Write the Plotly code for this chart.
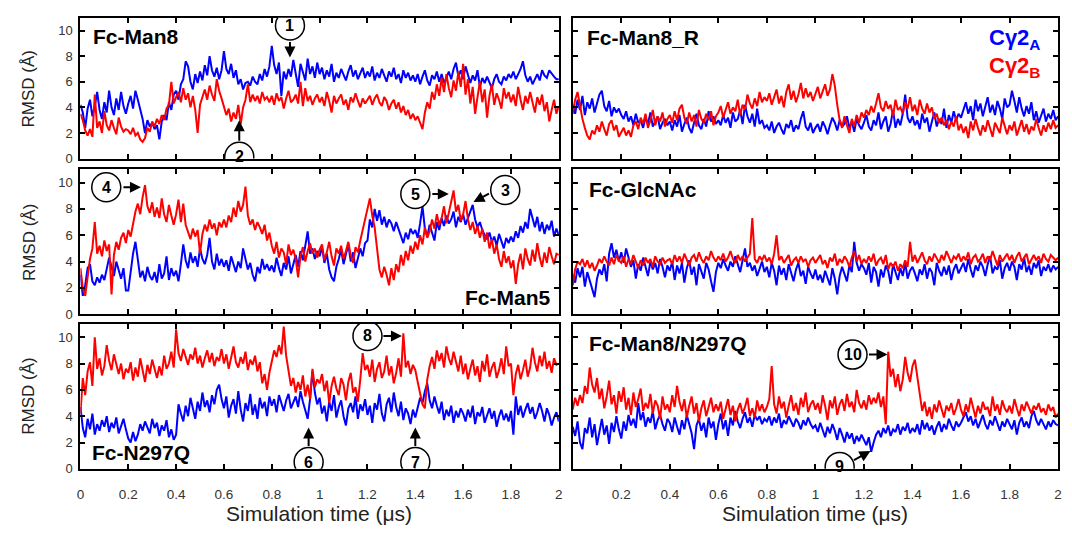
import plotly.graph_objects as go
from plotly.subplots import make_subplots

# ---------------- data ----------------
time = [round(i * 0.01, 2) for i in range(201)]
xticks = [0, 0.2, 0.4, 0.6, 0.8, 1.0, 1.2, 1.4, 1.6, 1.8, 2.0]
xtick_text_left = ["0", "0.2", "0.4", "0.6", "0.8", "1", "1.2", "1.4", "1.6", "1.8", "2"]
xtick_text_right = ["", "0.2", "0.4", "0.6", "0.8", "1", "1.2", "1.4", "1.6", "1.8", "2"]
yticks = [0, 2, 4, 6, 8, 10]

# Fc-Man8
man8_a = [4.2, 3.6, 2.4, 3.9, 4.6, 3.3, 4.1, 5.2, 3.8, 3.1, 4.4, 3.6, 5.3, 4.0, 3.4, 4.7, 3.8, 5.2, 4.1, 3.5,
          4.3, 4.9, 3.9, 5.3, 4.6, 3.8, 3.1, 2.0, 3.0, 2.5, 2.8, 2.3, 2.6, 1.5, 2.9, 3.4, 3.0, 4.4, 3.8, 5.0,
          5.3, 4.6, 5.8, 6.2, 7.6, 7.2, 6.0, 5.4, 6.6, 5.9, 6.8, 6.1, 7.3, 6.5, 8.0, 6.9, 6.4, 7.1, 6.2, 6.9,
          8.4, 7.0, 6.6, 7.4, 6.3, 6.9, 5.8, 6.2, 5.4, 5.9, 6.0, 5.7, 6.4, 6.0, 5.8, 6.6, 6.1, 7.0, 6.4, 7.2,
          8.8, 7.3, 6.6, 7.5, 4.9, 6.8, 6.2, 7.0, 6.4, 7.7, 6.5, 5.6, 7.4, 6.8, 6.1, 7.8, 6.6, 7.2, 6.3, 7.5,
          6.6, 7.1, 6.2, 6.9, 6.4, 7.4, 6.0, 6.7, 6.3, 7.0, 6.5, 6.1, 6.8, 7.3, 6.4, 6.9, 6.2, 6.6, 7.1, 6.3,
          6.8, 6.4, 7.2, 6.1, 6.7, 6.3, 7.0, 6.5, 6.0, 6.8, 6.4, 7.1, 6.2, 6.6, 5.9, 6.9, 6.3, 6.7, 6.1, 6.5,
          6.0, 6.6, 5.8, 6.4, 6.9, 6.1, 5.7, 6.5, 6.2, 6.8, 6.0, 6.6, 5.9, 6.3, 6.8, 6.2, 7.0, 7.5, 6.4, 6.9,
          6.2, 7.2, 6.6, 5.9, 6.5, 6.1, 6.9, 5.6, 6.3, 5.9, 6.4, 6.0, 5.5, 6.2, 6.6, 6.0, 5.8, 6.4, 6.1, 6.6,
          6.3, 6.8, 6.2, 6.6, 7.0, 7.6, 6.5, 6.0, 6.4, 5.8, 6.2, 6.6, 6.1, 6.9, 6.5, 6.3, 6.9, 6.6, 6.4, 6.2,
          6.2]
man8_b = [3.5, 3.0, 2.2, 1.8, 2.3, 1.7, 5.0, 2.4, 2.9, 2.0, 3.7, 2.6, 2.2, 3.0, 2.4, 1.9, 3.2, 2.5, 2.1, 2.3,
          2.2, 1.9, 2.4, 1.8, 2.0, 1.5, 1.3, 1.6, 2.4, 2.1, 2.9, 2.5, 3.1, 2.7, 3.4, 3.0, 3.9, 4.2, 6.0, 4.3,
          4.8, 5.2, 4.4, 5.5, 4.6, 5.1, 4.0, 4.9, 3.8, 2.0, 4.2, 4.8, 5.4, 4.6, 5.7, 5.0, 4.5, 6.2, 5.3, 4.7,
          4.0, 3.4, 3.9, 2.9, 3.6, 3.1, 4.2, 2.7, 4.0, 4.6, 5.8, 4.4, 5.0, 4.5, 4.9, 4.3, 5.2, 4.6, 4.8, 4.4,
          4.9, 4.2, 5.1, 4.5, 4.8, 3.9, 4.7, 5.3, 4.4, 4.6, 5.0, 4.3, 6.0, 4.1, 5.5, 4.5, 4.9, 4.2, 4.7, 5.0,
          4.4, 4.8, 4.1, 5.2, 4.5, 3.6, 4.9, 4.3, 4.7, 5.0, 4.2, 4.6, 3.8, 4.8, 4.4, 5.1, 4.5, 4.0, 4.7, 4.3,
          4.6, 4.9, 4.2, 4.7, 5.0, 4.4, 4.1, 4.8, 4.5, 3.8, 4.3, 4.6, 3.9, 4.4, 3.6, 4.1, 3.4, 3.8, 3.1, 3.5,
          3.0, 3.3, 2.8, 2.3, 3.6, 4.4, 3.9, 5.2, 4.6, 5.8, 4.9, 6.3, 5.2, 6.6, 5.5, 4.8, 6.1, 5.3, 6.8, 5.6,
          7.4, 5.0, 6.2, 4.3, 5.6, 3.5, 4.8, 6.0, 4.4, 5.4, 3.2, 4.9, 5.8, 4.2, 5.1, 4.6, 3.9, 5.5, 4.7, 5.2,
          4.4, 5.0, 4.1, 5.6, 4.6, 3.8, 4.9, 4.3, 5.2, 4.5, 3.6, 4.8, 4.2, 5.0, 3.7, 4.4, 2.9, 3.8, 4.6, 3.5,
          4.1]

# Fc-Man5
man5_a = [3.0, 1.4, 2.2, 3.5, 3.8, 2.5, 2.2, 2.8, 2.4, 3.0, 2.6, 3.4, 4.3, 3.6, 2.9, 4.0, 3.3, 2.7, 3.5, 1.8,
          1.8, 3.4, 4.6, 5.5, 3.9, 2.8, 3.3, 2.5, 3.6, 2.9, 2.6, 3.2, 2.4, 3.8, 2.7, 3.1, 4.4, 2.6, 3.5, 2.9,
          3.3, 2.5, 3.8, 5.3, 4.1, 3.5, 4.7, 3.9, 4.4, 3.6, 5.0, 4.2, 3.8, 4.5, 5.8, 4.0, 3.4, 4.6, 3.7, 4.2,
          3.6, 4.1, 3.3, 4.4, 3.8, 3.2, 4.0, 3.5, 5.0, 4.2, 3.4, 3.9, 3.0, 2.5, 3.6, 3.1, 4.2, 3.4, 3.8, 3.3,
          3.7, 3.2, 4.3, 3.5, 2.9, 3.9, 3.4, 4.4, 3.1, 3.8, 4.5, 3.6, 4.8, 4.1, 5.2, 6.3, 4.6, 5.0, 4.2, 4.8,
          4.4, 5.1, 3.9, 4.6, 3.4, 2.8, 2.5, 3.6, 4.2, 4.9, 3.8, 4.5, 5.3, 4.0, 4.7, 3.5, 4.3, 5.0, 4.4, 5.4,
          5.6, 7.2, 6.6, 8.0, 7.1, 7.9, 6.8, 7.4, 6.6, 7.2, 6.9, 6.3, 7.0, 6.5, 6.0, 5.4, 6.2, 5.7, 6.5, 6.1,
          6.4, 5.8, 6.9, 8.2, 6.5, 5.9, 6.8, 6.2, 5.6, 7.0, 6.4, 7.3, 6.7, 7.5, 6.9, 7.2, 7.8, 6.6, 7.4, 7.0,
          7.6, 6.8, 7.3, 7.9, 8.3, 7.2, 6.6, 7.0, 6.4, 6.0, 5.7, 6.2, 5.5, 5.9, 5.2, 6.1, 5.6, 5.0, 5.8, 5.4,
          5.9, 5.5, 6.3, 5.8, 6.7, 6.2, 7.0, 6.5, 8.0, 7.2, 6.6, 7.4, 6.3, 7.0, 6.1, 6.8, 6.4, 7.1, 5.9, 6.5,
          6.0]
man5_b = [3.5, 2.0, 1.4, 2.8, 4.2, 5.0, 7.0, 4.6, 5.2, 4.4, 5.6, 4.8, 5.3, 1.5, 4.5, 5.5, 4.9, 5.8, 6.2, 5.4,
          6.4, 5.9, 6.8, 7.8, 8.4, 7.6, 8.9, 9.8, 8.2, 7.7, 8.5, 7.4, 8.1, 7.3, 8.8, 7.6, 7.0, 8.3, 7.5, 6.8,
          7.6, 8.7, 7.0, 8.4, 6.8, 6.2, 5.7, 6.5, 5.9, 6.4, 4.6, 6.1, 6.8, 6.3, 7.2, 6.5, 6.9, 6.0, 7.0, 6.6,
          7.2, 6.6, 7.5, 7.0, 8.1, 7.4, 8.6, 7.8, 8.3, 9.7, 7.5, 6.8, 7.2, 6.4, 7.0, 6.6, 6.1, 6.8, 5.6, 6.2,
          5.2, 4.6, 5.5, 4.3, 5.0, 4.7, 3.8, 5.3, 4.5, 4.9, 4.2, 2.8, 4.4, 5.1, 4.0, 4.8, 5.4, 4.6, 5.0, 4.3,
          4.9, 5.3, 4.1, 4.7, 5.5, 4.4, 3.7, 5.0, 4.6, 5.2, 4.2, 4.8, 5.5, 4.5, 3.9, 5.1, 4.7, 5.6, 6.4, 7.2,
          7.8, 8.8, 7.5, 6.6, 5.0, 3.4, 2.8, 3.6, 3.0, 2.2, 3.5, 2.6, 3.8, 3.2, 4.5, 3.7, 4.8, 4.1, 5.2, 4.6,
          5.5, 4.9, 6.0, 5.3, 6.6, 5.8, 6.3, 7.2, 6.5, 7.6, 6.8, 7.3, 8.2, 6.9, 7.7, 8.5, 9.4, 7.8, 8.3, 7.1,
          7.6, 8.6, 7.2, 6.4, 7.0, 6.1, 6.7, 5.8, 6.5, 5.5, 6.2, 5.0, 5.7, 4.6, 5.3, 4.2, 3.6, 4.8, 3.9, 4.4,
          3.5, 4.1, 2.3, 3.8, 4.6, 3.4, 5.0, 4.2, 3.7, 4.9, 4.0, 5.4, 4.3, 3.6, 4.7, 3.9, 5.1, 4.4, 3.8, 4.6,
          4.5]

# Fc-N297Q
n297q_a = [4.7, 3.1, 2.4, 3.8, 3.0, 4.2, 2.6, 3.4, 2.9, 3.7, 3.2, 4.0, 2.8, 3.5, 3.1, 3.9, 2.7, 3.3, 3.8, 3.0,
           2.3, 2.0, 2.8, 2.1, 2.6, 3.4, 2.9, 3.6, 3.2, 2.7, 3.8, 3.1, 3.5, 2.5, 3.3, 2.9, 3.7, 2.4, 3.0, 2.2,
           2.6, 4.9, 4.2, 3.6, 4.8, 4.0, 5.4, 4.5, 3.8, 5.1, 4.4, 5.8, 4.7, 5.2, 4.3, 5.6, 4.9, 6.0, 6.4, 5.3,
           4.6, 5.5, 3.9, 4.8, 5.3, 4.2, 5.9, 4.5, 3.6, 5.0, 4.4, 5.7, 4.1, 4.9, 3.8, 5.4, 4.6, 5.1, 4.0, 5.5,
           4.8, 5.3, 4.3, 5.6, 4.9, 4.4, 5.2, 5.7, 4.6, 5.0, 5.5, 4.7, 5.9, 5.1, 4.5, 3.8, 5.3, 7.4, 5.8, 4.9,
           5.4, 4.2, 4.8, 3.6, 5.1, 4.4, 5.6, 3.9, 4.7, 5.2, 4.0, 3.3, 4.6, 5.0, 4.3, 5.5, 3.8, 4.9, 4.4, 5.3,
           4.1, 4.8, 3.5, 5.0, 4.5, 5.7, 4.2, 3.6, 4.9, 5.4, 4.3, 5.8, 4.7, 4.0, 5.1, 3.7, 4.6, 4.2, 3.4, 4.5,
           3.9, 4.7, 5.4, 5.0, 5.9, 6.5, 5.2, 4.6, 5.5, 4.8, 4.2, 5.1, 3.7, 4.5, 4.0, 4.8, 3.5, 4.4, 3.9, 4.6,
           4.2, 3.6, 4.5, 3.9, 4.8, 3.4, 4.3, 4.0, 4.7, 3.5, 4.1, 4.6, 3.8, 4.4, 3.2, 4.0, 4.5, 3.7, 4.2, 3.6,
           4.4, 2.6, 5.5, 4.1, 4.8, 3.9, 4.5, 5.0, 4.2, 4.7, 3.8, 4.3, 5.0, 4.4, 3.6, 4.6, 4.1, 3.3, 3.9, 4.3,
           3.6]
n297q_b = [4.2, 6.9, 5.6, 7.4, 8.1, 6.3, 10.0, 7.6, 8.4, 7.1, 7.8, 9.4, 8.2, 7.5, 8.7, 7.9, 7.2, 8.0, 6.8, 7.6,
           7.3, 8.1, 6.7, 7.7, 7.0, 8.4, 7.4, 6.6, 7.9, 7.2, 8.3, 7.5, 6.9, 7.8, 7.1, 8.6, 7.6, 8.0, 8.9, 7.7,
           10.6, 8.8, 8.2, 9.1, 8.5, 7.9, 8.7, 8.3, 9.2, 8.0, 8.6, 7.7, 8.4, 9.0, 8.1, 8.8, 7.8, 8.5, 8.2, 9.1,
           8.0, 8.7, 7.6, 8.4, 9.3, 8.1, 7.7, 8.5, 8.0, 8.9, 7.5, 8.3, 7.9, 8.6, 7.4, 8.1, 6.5, 7.2, 6.0, 7.3,
           8.2, 9.0, 8.5, 9.4, 8.7, 10.8, 8.6, 7.4, 6.3, 6.9, 5.8, 6.6, 6.0, 7.1, 5.5, 6.4, 5.3, 7.6, 6.2, 6.8,
           6.5, 7.2, 5.9, 6.7, 5.0, 6.3, 7.0, 6.1, 5.6, 6.9, 6.4, 5.2, 6.6, 7.3, 5.8, 6.2, 5.1, 6.8, 8.8, 7.5,
           7.9, 7.0, 8.3, 6.6, 7.6, 8.1, 6.9, 7.4, 8.6, 7.1, 7.8, 6.5, 7.3, 8.4, 7.0, 10.3, 7.7, 8.2, 7.2, 7.9,
           7.5, 6.6, 5.8, 4.9, 4.6, 6.8, 7.8, 8.5, 7.6, 9.0, 8.2, 8.8, 7.7, 9.3, 8.4, 7.9, 8.9, 8.1, 7.4, 8.6,
           7.2, 8.0, 6.8, 7.6, 8.3, 7.1, 7.8, 6.6, 8.2, 7.4, 8.7, 7.0, 7.7, 8.1, 6.9, 7.5, 8.4, 7.2, 9.3, 7.8,
           8.0, 5.6, 7.2, 7.9, 6.8, 7.5, 8.3, 7.0, 7.7, 9.2, 8.1, 7.4, 8.6, 7.8, 8.9, 7.6, 8.2, 7.3, 8.4, 7.9,
           8.0]

# Fc-Man8_R
man8r_a = [4.2, 3.5, 4.6, 3.8, 4.9, 3.4, 4.4, 3.9, 4.7, 3.6, 4.3, 5.0, 5.3, 4.1, 3.7, 4.5, 3.3, 4.0, 3.6, 3.9,
           3.4, 3.1, 3.7, 2.9, 3.3, 2.6, 3.5, 2.8, 3.0, 2.4, 3.2, 2.7, 3.6, 2.5, 2.9, 3.3, 2.3, 2.8, 3.1, 2.6,
           2.9, 2.2, 3.0, 2.5, 3.4, 2.1, 2.7, 3.2, 2.4, 2.0, 2.8, 3.5, 2.6, 2.3, 3.1, 2.5, 3.7, 2.9, 3.3, 2.7,
           3.0, 2.6, 3.4, 2.8, 3.2, 2.4, 3.6, 2.9, 3.1, 3.8, 2.7, 4.2, 3.3, 2.8, 3.5, 2.5, 3.9, 2.7, 3.0, 2.4,
           2.6, 2.2, 2.9, 2.0, 2.5, 2.8, 2.3, 1.9, 2.7, 2.4, 3.0, 2.1, 2.6, 2.3, 3.1, 3.7, 2.5, 2.2, 2.8, 2.0,
           2.4, 2.7, 2.1, 2.9, 2.5, 1.9, 2.6, 3.2, 2.8, 2.2, 3.0, 2.5, 2.7, 3.3, 2.4, 2.9, 2.1, 3.1, 2.6, 2.3,
           2.8, 3.4, 2.5, 2.2, 3.0, 2.6, 3.6, 2.3, 2.9, 3.3, 2.1, 2.7, 3.8, 2.4, 3.1, 2.6, 3.5, 5.0, 3.2, 2.8,
           3.3, 2.6, 3.0, 2.3, 3.5, 2.8, 3.2, 2.1, 2.9, 3.6, 2.5, 3.1, 2.7, 3.9, 2.4, 3.4, 2.8, 3.7, 3.0, 3.5,
           3.2, 3.9, 4.4, 3.5, 4.1, 3.0, 4.6, 3.7, 4.3, 3.3, 4.0, 4.8, 3.6, 4.2, 3.4, 4.5, 3.9, 3.1, 4.7, 4.0,
           4.2, 5.3, 4.5, 3.6, 4.8, 3.9, 3.3, 4.1, 3.5, 4.4, 3.0, 3.7, 2.8, 3.4, 3.9, 2.9, 3.5, 3.1, 3.8, 3.0,
           3.3]
man8r_b = [3.5, 4.6, 5.2, 4.0, 3.1, 2.4, 1.8, 1.5, 2.2, 1.9, 2.6, 2.1, 2.9, 2.3, 1.8, 2.7, 3.0, 2.2, 2.6, 1.7,
           2.0, 2.4, 1.8, 2.2, 1.7, 2.6, 2.9, 2.3, 3.2, 2.7, 3.5, 2.4, 3.0, 3.8, 2.6, 3.3, 2.9, 3.6, 2.5, 3.1,
           3.4, 2.8, 3.7, 3.0, 3.9, 4.2, 3.2, 2.7, 3.6, 2.9, 3.4, 2.5, 3.8, 3.1, 2.8, 3.5, 3.0, 3.7, 2.6, 3.3,
           3.6, 4.1, 3.2, 3.9, 4.4, 3.5, 4.0, 3.7, 4.6, 3.4, 4.2, 3.8, 5.0, 4.3, 3.9, 4.7, 4.1, 5.2, 4.4, 4.8,
           4.5, 5.1, 4.2, 4.8, 5.4, 4.3, 4.9, 4.0, 5.2, 5.8, 4.6, 5.3, 4.4, 5.0, 5.9, 4.7, 5.5, 4.8, 5.2, 4.5,
           5.0, 5.6, 4.7, 5.3, 5.8, 4.9, 5.4, 6.6, 5.7, 4.2, 3.0, 2.4, 3.3, 2.6, 2.0, 3.1, 2.5, 3.4, 2.8, 3.6,
           3.2, 3.8, 3.4, 4.1, 3.6, 4.3, 5.1, 4.0, 3.7, 4.5, 3.9, 4.2, 3.3, 4.6, 3.8, 4.0, 3.5, 4.4, 3.9, 4.8,
           3.7, 4.2, 3.4, 4.6, 3.9, 3.5, 4.3, 3.6, 4.0, 3.1, 3.5, 2.8, 3.2, 2.6, 3.0, 2.3, 2.9, 2.5, 3.3, 2.2,
           2.7, 2.0, 2.5, 1.6, 2.9, 2.2, 3.1, 2.4, 1.8, 2.6, 2.1, 3.0, 2.3, 1.7, 2.8, 2.4, 2.0, 3.2, 2.5, 1.9,
           2.6, 2.2, 2.9, 1.8, 2.4, 3.0, 2.1, 2.7, 1.9, 2.5, 2.2, 3.1, 2.4, 1.8, 2.6, 2.1, 2.8, 2.3, 3.0, 2.4,
           2.6]

# Fc-GlcNAc
glcnac_a = [3.0, 2.4, 3.5, 2.8, 3.6, 2.1, 3.2, 2.6, 1.9, 1.3, 2.7, 3.4, 3.0, 3.8, 2.5, 4.6, 5.4, 4.3, 4.9, 4.0,
            4.7, 3.9, 5.0, 4.2, 3.6, 4.1, 2.7, 3.8, 3.3, 4.3, 3.5, 2.9, 4.0, 3.4, 3.9, 3.1, 4.2, 3.6, 2.8, 3.7,
            3.3, 4.0, 2.6, 3.7, 3.1, 3.9, 2.4, 3.5, 4.1, 3.0, 3.6, 2.2, 3.8, 3.3, 2.7, 3.9, 3.4, 2.5, 1.7, 3.2,
            3.9, 3.5, 4.2, 3.7, 3.3, 4.0, 3.6, 4.4, 3.8, 3.2, 4.1, 5.0, 3.6, 3.9, 3.3, 3.7, 2.9, 3.5, 4.0, 3.2,
            3.6, 2.8, 3.9, 3.3, 2.2, 3.7, 3.0, 3.5, 2.6, 3.8, 3.2, 2.5, 3.4, 3.9, 2.9, 3.3, 2.3, 3.6, 3.1, 2.7,
            3.4, 2.6, 3.0, 2.4, 3.3, 2.8, 2.2, 3.5, 2.7, 1.5, 2.9, 3.6, 3.1, 2.5, 3.7, 3.2, 5.5, 3.9, 3.3, 3.8,
            3.5, 3.0, 3.9, 2.4, 3.6, 3.2, 2.1, 3.4, 2.8, 3.7, 3.3, 2.3, 3.8, 3.1, 2.6, 3.5, 2.9, 3.9, 2.7, 3.3,
            3.6, 3.1, 2.5, 3.4, 3.0, 3.8, 2.7, 3.5, 3.2, 2.2, 3.9, 3.3, 2.9, 3.6, 3.0, 3.7, 2.6, 3.4, 3.8, 3.1,
            3.5, 3.9, 3.2, 4.2, 3.4, 2.8, 3.7, 3.3, 4.0, 3.6, 2.9, 3.8, 4.4, 3.1, 3.6, 3.4, 4.1, 2.7, 3.5, 3.9,
            3.3, 4.0, 3.6, 2.6, 3.8, 3.4, 4.3, 3.2, 3.7, 3.0, 3.9, 3.5, 4.1, 2.9, 3.6, 3.3, 3.8, 3.2, 3.7, 3.4,
            3.6]
glcnac_b = [2.2, 3.4, 4.0, 3.8, 4.2, 3.6, 4.1, 3.5, 3.9, 3.3, 3.7, 4.2, 3.9, 4.4, 4.0, 3.7, 4.3, 3.8, 4.5, 4.1,
            3.9, 4.4, 3.6, 4.2, 3.8, 4.5, 4.0, 3.5, 4.1, 3.7, 4.3, 3.9, 4.2, 3.6, 4.4, 4.0, 3.8, 4.3, 3.9, 4.1,
            4.2, 3.8, 4.5, 4.0, 4.4, 3.9, 4.6, 4.1, 3.7, 4.3, 4.5, 4.0, 4.7, 4.2, 3.9, 4.4, 4.1, 4.8, 4.3, 4.0,
            4.4, 4.1, 4.6, 4.0, 4.3, 4.8, 4.2, 3.9, 4.5, 4.1, 4.4, 4.0, 4.3, 4.6, 7.3, 4.2, 3.9, 4.4, 4.1, 4.5,
            4.0, 4.3, 3.8, 4.6, 6.0, 4.1, 4.4, 3.9, 4.2, 4.5, 3.7, 4.1, 4.3, 3.9, 4.4, 4.0, 4.2, 3.6, 4.1, 4.3,
            3.9, 4.2, 4.5, 3.8, 4.1, 3.5, 4.3, 4.0, 4.6, 3.7, 4.2, 3.9, 4.4, 4.1, 3.6, 4.3, 4.8, 4.0, 4.5, 3.8,
            4.2, 3.9, 4.4, 4.0, 4.6, 3.7, 4.1, 4.3, 3.8, 4.5, 3.4, 3.9, 3.6, 4.0, 3.3, 3.8, 3.5, 4.1, 3.6, 5.5,
            4.0, 4.5, 3.9, 4.3, 4.7, 4.1, 3.8, 4.4, 4.0, 4.6, 4.2, 3.9, 4.5, 4.1, 4.8, 4.3, 3.9, 4.4, 4.2, 4.6,
            4.0, 4.4, 4.1, 4.7, 3.8, 4.3, 4.5, 4.0, 4.2, 4.6, 3.9, 4.4, 4.1, 4.8, 4.2, 3.7, 4.5, 4.0, 4.3, 4.6,
            4.1, 4.5, 3.9, 4.4, 4.7, 4.0, 4.3, 4.6, 3.8, 4.2, 4.5, 4.1, 4.4, 3.9, 4.6, 4.2, 4.0, 4.5, 4.3, 4.1,
            4.3]

# Fc-Man8/N297Q
man8n_a = [3.2, 2.5, 3.6, 2.0, 1.5, 3.1, 2.7, 3.9, 2.4, 3.4, 1.8, 2.9, 3.8, 2.6, 3.3, 1.9, 3.5, 2.8, 4.0, 3.0,
           2.3, 3.6, 2.9, 4.1, 3.3, 3.8, 3.1, 5.0, 3.7, 4.3, 3.2, 3.9, 3.5, 4.4, 3.0, 3.7, 4.1, 3.4, 2.9, 3.8,
           3.5, 2.8, 3.9, 3.2, 2.6, 3.7, 3.0, 4.1, 3.4, 2.7, 1.5, 3.3, 3.8, 2.9, 3.5, 2.4, 3.9, 3.1, 3.6, 2.2,
           3.4, 4.2, 3.0, 3.7, 2.5, 3.9, 3.3, 4.4, 3.6, 3.1, 3.8, 4.3, 3.5, 3.9, 3.2, 4.1, 3.7, 4.0, 3.4, 3.8,
           3.6, 4.0, 3.3, 3.9, 3.5, 4.2, 3.1, 3.7, 3.4, 4.0, 3.6, 3.2, 3.8, 3.5, 3.0, 3.7, 3.3, 3.9, 3.4, 3.1,
           3.3, 2.8, 3.5, 3.0, 2.4, 3.2, 2.7, 3.4, 2.9, 2.2, 3.1, 2.6, 2.0, 2.8, 2.3, 2.7, 1.9, 2.5, 2.1, 2.6,
           2.2, 1.8, 2.4, 1.3, 2.0, 2.6, 2.9, 2.4, 3.1, 2.7, 3.3, 2.5, 3.0, 2.8, 3.4, 2.6, 3.2, 2.9, 3.5, 2.7,
           3.1, 2.8, 3.4, 2.6, 3.7, 3.0, 3.5, 2.9, 3.3, 2.6, 3.2, 3.6, 2.8, 3.4, 3.0, 3.8, 3.3, 2.9, 3.6, 3.2,
           3.5, 3.9, 4.3, 3.6, 4.0, 3.3, 3.8, 3.1, 3.6, 4.1, 3.4, 3.0, 3.7, 3.3, 4.0, 3.5, 2.9, 3.6, 3.2, 3.8,
           3.4, 3.0, 3.7, 2.6, 3.5, 3.9, 3.2, 3.6, 3.1, 4.0, 4.4, 3.7, 3.3, 3.8, 3.4, 3.0, 3.6, 3.2, 3.7, 3.4,
           3.3]
man8n_b = [4.5, 5.4, 4.8, 5.6, 5.0, 6.3, 5.7, 7.7, 6.4, 5.8, 6.9, 5.3, 6.1, 4.6, 5.5, 6.7, 4.9, 5.6, 4.2, 5.9,
           5.1, 6.2, 4.5, 5.4, 4.1, 5.8, 4.7, 5.3, 6.1, 4.4, 5.0, 4.6, 5.7, 4.2, 5.2, 4.8, 3.8, 5.5, 4.5, 4.9,
           4.3, 5.6, 4.7, 6.3, 5.1, 4.4, 5.3, 3.9, 4.8, 5.5, 4.2, 5.0, 3.6, 4.6, 5.2, 4.0, 4.7, 5.4, 4.3, 4.9,
           4.4, 5.1, 3.8, 4.6, 5.3, 4.1, 4.8, 3.6, 4.5, 5.0, 4.2, 4.7, 5.4, 4.0, 4.6, 3.9, 5.2, 4.4, 4.9, 4.3,
           4.7, 5.3, 7.8, 4.9, 4.2, 5.5, 4.6, 5.1, 3.9, 4.8, 5.6, 4.4, 5.0, 4.1, 5.4, 4.7, 5.8, 4.3, 4.9, 5.2,
           4.5, 5.0, 4.2, 5.6, 4.8, 3.7, 5.2, 4.6, 5.5, 4.1, 4.9, 5.3, 4.4, 5.7, 4.7, 5.1, 4.3, 6.0, 5.0, 4.6,
           5.2, 4.5, 5.6, 4.9, 5.4, 5.0, 5.8, 4.7, 5.5, 3.4, 8.9, 7.0, 7.6, 6.2, 7.2, 5.9, 6.8, 8.5, 7.3, 6.6,
           7.8, 8.3, 6.9, 5.6, 4.4, 5.1, 4.0, 4.7, 3.8, 4.9, 4.3, 5.2, 4.6, 3.9, 4.8, 4.4, 5.0, 4.1, 4.6, 5.3,
           4.5, 4.0, 4.9, 4.3, 5.4, 4.6, 3.9, 4.8, 4.2, 5.1, 4.5, 4.7, 4.0, 5.5, 4.4, 4.9, 4.1, 5.2, 4.6, 4.3,
           4.8, 4.2, 5.3, 4.6, 4.0, 4.9, 4.4, 5.1, 4.7, 4.2, 4.8, 4.5, 5.0, 4.3, 4.6, 4.1, 4.9, 4.4, 4.7, 3.9,
           4.2]

panel_names = ["Fc-Man8", "Fc-Man8_R", "Fc-Man5", "Fc-GlcNAc", "Fc-N297Q", "Fc-Man8/N297Q"]
series_a = [man8_a, man8r_a, man5_a, glcnac_a, n297q_a, man8n_a]
series_b = [man8_b, man8r_b, man5_b, glcnac_b, n297q_b, man8n_b]
for s in series_a + series_b:
    assert len(s) == len(time), len(s)

# ---------------- figure ----------------
W, H = 1072, 533
BLUE = "#0000ff"
RED = "#ff0000"
SANS = "Liberation Sans, Arial, sans-serif"

fig = make_subplots(rows=3, cols=2)

col_dom = {1: [77 / W, 559 / W], 2: [573 / W, 1062 / W]}
row_dom = {1: [(H - 161) / H, (H - 18) / H],
           2: [(H - 319) / H, (H - 172) / H],
           3: [(H - 476) / H, (H - 329) / H]}

for i in range(6):
    r, c = i // 2 + 1, i % 2 + 1
    fig.add_trace(go.Scatter(x=time, y=series_a[i], mode="lines",
                             line=dict(color=BLUE, width=2), showlegend=False,
                             hoverinfo="skip"), row=r, col=c)
    fig.add_trace(go.Scatter(x=time, y=series_b[i], mode="lines",
                             line=dict(color=RED, width=2), showlegend=False,
                             hoverinfo="skip"), row=r, col=c)
    fig.update_xaxes(domain=col_dom[c], range=[0, 2], tickvals=xticks,
                     ticktext=(xtick_text_left if c == 1 else xtick_text_right),
                     showticklabels=(r == 3), row=r, col=c)
    fig.update_yaxes(domain=row_dom[r], range=[0, 11], tickvals=yticks,
                     showticklabels=(c == 1), row=r, col=c)

common = dict(showline=True, linecolor="black", linewidth=2, mirror="ticks",
              ticks="inside", ticklen=5, tickwidth=1.5, tickcolor="black",
              showgrid=False, zeroline=False, fixedrange=True)
fig.update_xaxes(**common, tickfont=dict(family=SANS, size=13.5, color="#333"),
                 ticklabelstandoff=12)
fig.update_yaxes(**common, tickfont=dict(family=SANS, size=13, color="#333"),
                 ticklabelstandoff=3)


def ax_ref(i):
    return ("x", "y") if i == 1 else (f"x{i}", f"y{i}")


annotations = []
shapes = []

# panel labels (axis index, text, x, y, anchor)
labels = [
    (1, "Fc-Man8", 0.046, 9.5, "left"),
    (2, "Fc-Man8_R", 0.049, 9.46, "left"),
    (3, "Fc-Man5", 1.975, 1.27, "right"),
    (4, "Fc-GlcNAc", 0.057, 9.48, "left"),
    (5, "Fc-N297Q", 0.041, 1.27, "left"),
    (6, "Fc-Man8/N297Q", 0.057, 9.5, "left"),
]
for idx, txt, x, y, anc in labels:
    xr, yr = ax_ref(idx)
    annotations.append(dict(xref=xr, yref=yr, x=x, y=y, text=f"<b>{txt}</b>",
                            showarrow=False, xanchor=anc, yanchor="middle",
                            font=dict(family=SANS, size=21, color="black")))

# series key in top-right panel
annotations.append(dict(xref="x2", yref="y2", x=1.935, y=9.3, text="<b>Cγ2<sub>A</sub></b>",
                        showarrow=False, xanchor="right", yanchor="middle",
                        font=dict(family=SANS, size=22, color=BLUE)))
annotations.append(dict(xref="x2", yref="y2", x=1.935, y=7.15, text="<b>Cγ2<sub>B</sub></b>",
                        showarrow=False, xanchor="right", yanchor="middle",
                        font=dict(family=SANS, size=22, color=RED)))

# circled event markers (axis index, label, x, y)
circles = [
    (1, "1", 0.876, 10.4), (1, "2", 0.664, 0.15),
    (3, "4", 0.108, 9.65), (3, "5", 1.40, 9.13), (3, "3", 1.776, 9.43),
    (5, "6", 0.954, 0.52), (5, "7", 1.40, 0.52), (5, "8", 1.20, 10.1),
    (6, "10", 1.153, 8.68), (6, "9", 1.10, 0.15),
]
# arrows (axis index, head x, head y, tail dx px, tail dy px)
arrows = [
    (1, 0.876, 7.9, 0, -17), (1, 0.664, 3.0, 0, 22),
    (3, 0.253, 9.65, -19, 0), (3, 1.54, 9.13, -18, 0), (3, 1.643, 8.53, 17, -9),
    (5, 0.954, 3.14, 0, 20), (5, 1.40, 3.14, 0, 20), (5, 1.344, 10.1, -20, 0),
    (6, 1.297, 8.68, -20, 0), (6, 1.227, 1.35, -18, 10),
]
for idx, hx, hy, dx, dy in arrows:
    xr, yr = ax_ref(idx)
    annotations.append(dict(xref=xr, yref=yr, x=hx, y=hy, ax=dx, ay=dy, text="",
                            showarrow=True, arrowhead=2, arrowsize=1.1,
                            arrowwidth=2, arrowcolor="black"))
for idx, lab, cx, cy in circles:
    xr, yr = ax_ref(idx)
    shapes.append(dict(type="circle", xref=xr, yref=yr, xsizemode="pixel",
                       ysizemode="pixel", xanchor=cx, yanchor=cy,
                       x0=-14.5, x1=14.5, y0=-14.5, y1=14.5,
                       fillcolor="white", line=dict(color="black", width=1.5),
                       layer="above"))
    annotations.append(dict(xref=xr, yref=yr, x=cx, y=cy, text=f"<b>{lab}</b>",
                            showarrow=False, xanchor="center", yanchor="middle",
                            font=dict(family=SANS, size=16, color="black")))

# axis titles
for yc in (90, 246, 402):
    annotations.append(dict(xref="paper", yref="paper", x=25 / W, y=(H - yc) / H,
                            text="RMSD (Å)", textangle=-90, showarrow=False,
                            xanchor="center", yanchor="middle",
                            font=dict(family=SANS, size=17, color="#222")))
for xc in (317, 817):
    annotations.append(dict(xref="paper", yref="paper", x=xc / W, y=(H - 521) / H,
                            text="Simulation time (μs)", showarrow=False,
                            xanchor="center", yanchor="middle",
                            font=dict(family=SANS, size=21, color="#222")))

fig.update_layout(width=W, height=H, margin=dict(l=0, r=0, t=0, b=0),
                  paper_bgcolor="white", plot_bgcolor="white",
                  annotations=annotations, shapes=shapes, showlegend=False)

fig.write_html("out.html", config={"displayModeBar": False})
